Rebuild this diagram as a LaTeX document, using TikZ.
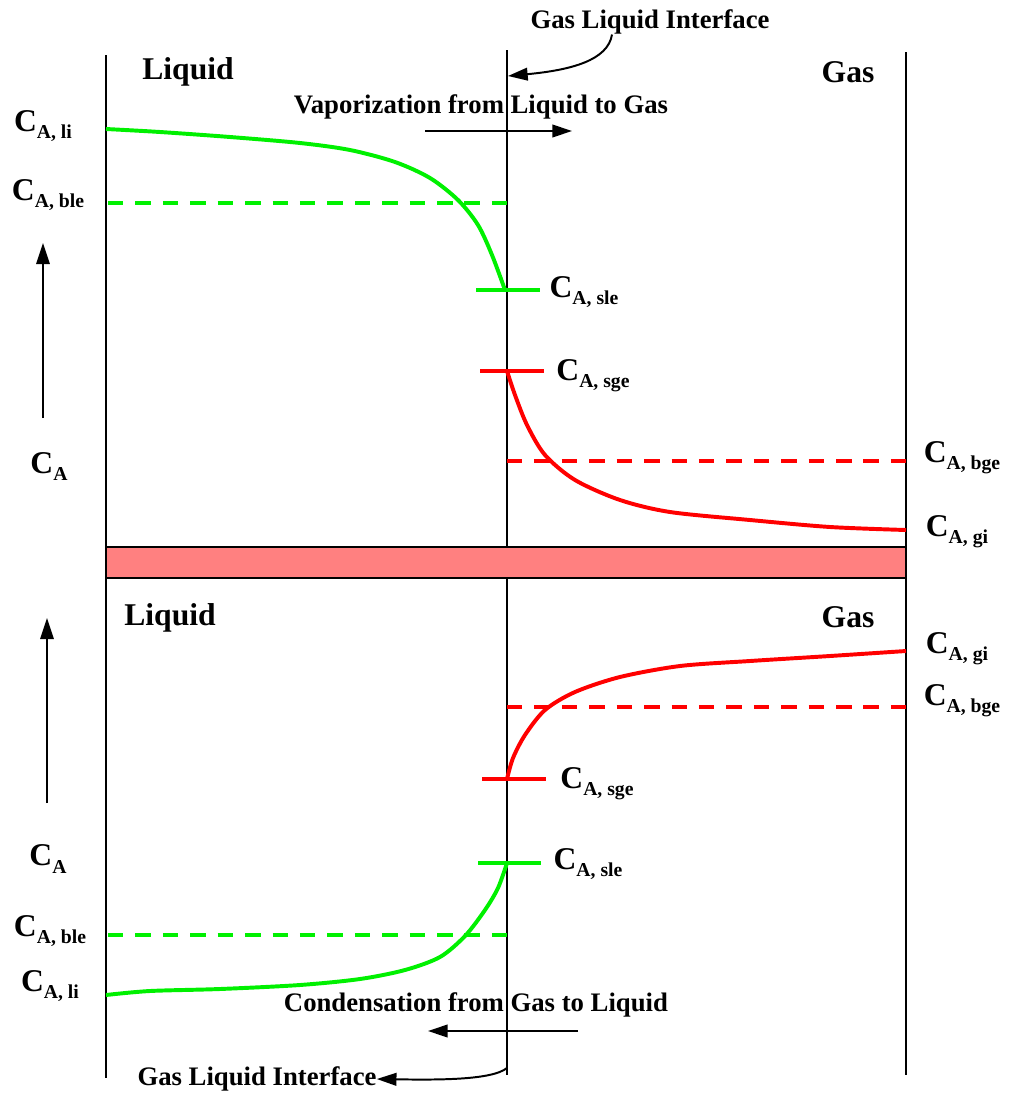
\documentclass[tikz,border=0pt]{standalone}
\usepackage{fontspec}
\setmainfont{Liberation Serif}
\usetikzlibrary{arrows.meta}
\definecolor{liqGreen}{RGB}{0,240,0}
\definecolor{gasRed}{RGB}{255,0,0}
\definecolor{bandPink}{RGB}{255,128,128}
\newcommand{\conc}[1]{{\fontsize{22.5}{24}\selectfont C}\raisebox{-5pt}{\fontsize{14}{16}\selectfont #1}}

\begin{document}
\begin{tikzpicture}[
      x=0.025cm,y=-0.025cm,
      lbl/.style={font=\fontsize{19}{22}\selectfont\bfseries,inner sep=0pt},
      phase/.style={font=\fontsize{22.5}{26}\selectfont\bfseries,inner sep=0pt},
      wall/.style={line width=1.4pt},
      arr/.style={-{Triangle[length=14pt,width=9pt]},line width=1.4pt},
      uparr/.style={-{Triangle[length=15pt,width=9.5pt]},line width=1.4pt},
      curve/.style={line width=2.8pt},
      level/.style={line width=2.8pt},
      bulk/.style={line width=2.8pt,dash pattern=on 11pt off 8.5pt}
    ]
    \useasboundingbox (0,0) rectangle (1008,1093);
    % walls and interface
    \draw[wall] (106,55) -- (106,1078);
    \draw[wall] (906,52) -- (906,1075);
    \draw[wall] (507,50) -- (507,547);
    \draw[wall] (507,578) -- (507,1075);
    \draw[wall,fill=bandPink] (106,547) rectangle (906,578);

    % top: vaporization
    \node[phase] (liqTop) at (188,72) {Liquid};
    \node[phase] (gasTop) at (848,72) {Gas};
    \node[lbl] (ifTop) at (650,22) {Gas Liquid Interface};
    \node[lbl] (vapTxt) at (481,107) {Vaporization from Liquid to Gas};
    \coordinate (ifTopTip) at (508,76);
    \coordinate (vapTail) at (425,131);
    \coordinate (vapTip) at (572,131);
    \draw[arr] (ifTop.south -| 612,0) .. controls (608,60) and (572,70) .. (ifTopTip);
    \draw[arr] (vapTail) -- (vapTip);

    \draw[curve,liqGreen] plot[smooth] coordinates {(106,129) (160,132) (230,137) (300,143) (350,150) (395,162) (430,178) (458,200) (478,225) (492,255) (505,290)};
    \draw[bulk,liqGreen] (108,203) -- (507,203);
    \draw[level,liqGreen] (476,290) -- (540,290);
    \draw[curve,gasRed] plot[smooth] coordinates {(507,371) (515,395) (527,425) (545,455) (575,480) (620,500) (670,512) (750,520) (830,527) (906,530)};
    \draw[bulk,gasRed] (507,461) -- (906,461);
    \draw[level,gasRed] (480,371) -- (544,371);

    \node[lbl] (cliTop) at (43,126) {\conc{A, li}};
    \node[lbl] (cbleTop) at (48,195) {\conc{A, ble}};
    \node[lbl] (caTop) at (49,467) {\conc{A}};
    \node[lbl] (csleTop) at (584,292) {\conc{A, sle}};
    \node[lbl] (csgeTop) at (593,376) {\conc{A, sge}};
    \node[lbl] (cbgeTop) at (962,458) {\conc{A, bge}};
    \node[lbl] (cgiTop) at (957,532) {\conc{A, gi}};
    \coordinate (upTopTail) at (43,418);
    \coordinate (upTopTip) at (43,243);
    \draw[uparr] (upTopTail) -- (upTopTip);

    % bottom: condensation
    \node[phase] (liqBot) at (170,618) {Liquid};
    \node[phase] (gasBot) at (848,617) {Gas};
    \node[lbl] (ifBot) at (257,1079) {Gas Liquid Interface};
    \node[lbl] (conTxt) at (476,1005) {Condensation from Gas to Liquid};
    \coordinate (ifBotTail) at (507,1068);
    \coordinate (conTail) at (578,1031);
    \coordinate (conTip) at (428,1031);
    \draw[arr] (ifBotTail) .. controls (492,1080) and (440,1080) .. (ifBot.east);
    \draw[arr] (conTail) -- (conTip);

    \draw[curve,gasRed] plot[smooth] coordinates {(507,779) (513,758) (525,735) (545,710) (575,692) (620,677) (680,666) (750,661) (830,656) (906,651)};
    \draw[bulk,gasRed] (507,707) -- (906,707);
    \draw[level,gasRed] (482,779) -- (546,779);
    \draw[curve,liqGreen] plot[smooth] coordinates {(106,995) (150,991) (220,989) (300,985) (360,979) (405,970) (440,957) (465,936) (485,910) (498,888) (507,863)};
    \draw[bulk,liqGreen] (108,935) -- (507,935);
    \draw[level,liqGreen] (478,863) -- (541,863);

    \node[lbl] (cgiBot) at (957,649) {\conc{A, gi}};
    \node[lbl] (cbgeBot) at (962,701) {\conc{A, bge}};
    \node[lbl] (csgeBot) at (597,784) {\conc{A, sge}};
    \node[lbl] (csleBot) at (588,864) {\conc{A, sle}};
    \node[lbl] (caBot) at (48,859) {\conc{A}};
    \node[lbl] (cbleBot) at (50,931) {\conc{A, ble}};
    \node[lbl] (cliBot) at (50,986) {\conc{A, li}};
    \coordinate (upBotTail) at (47,803);
    \coordinate (upBotTip) at (47,618);
    \draw[uparr] (upBotTail) -- (upBotTip);
  \end{tikzpicture}
\end{document}
